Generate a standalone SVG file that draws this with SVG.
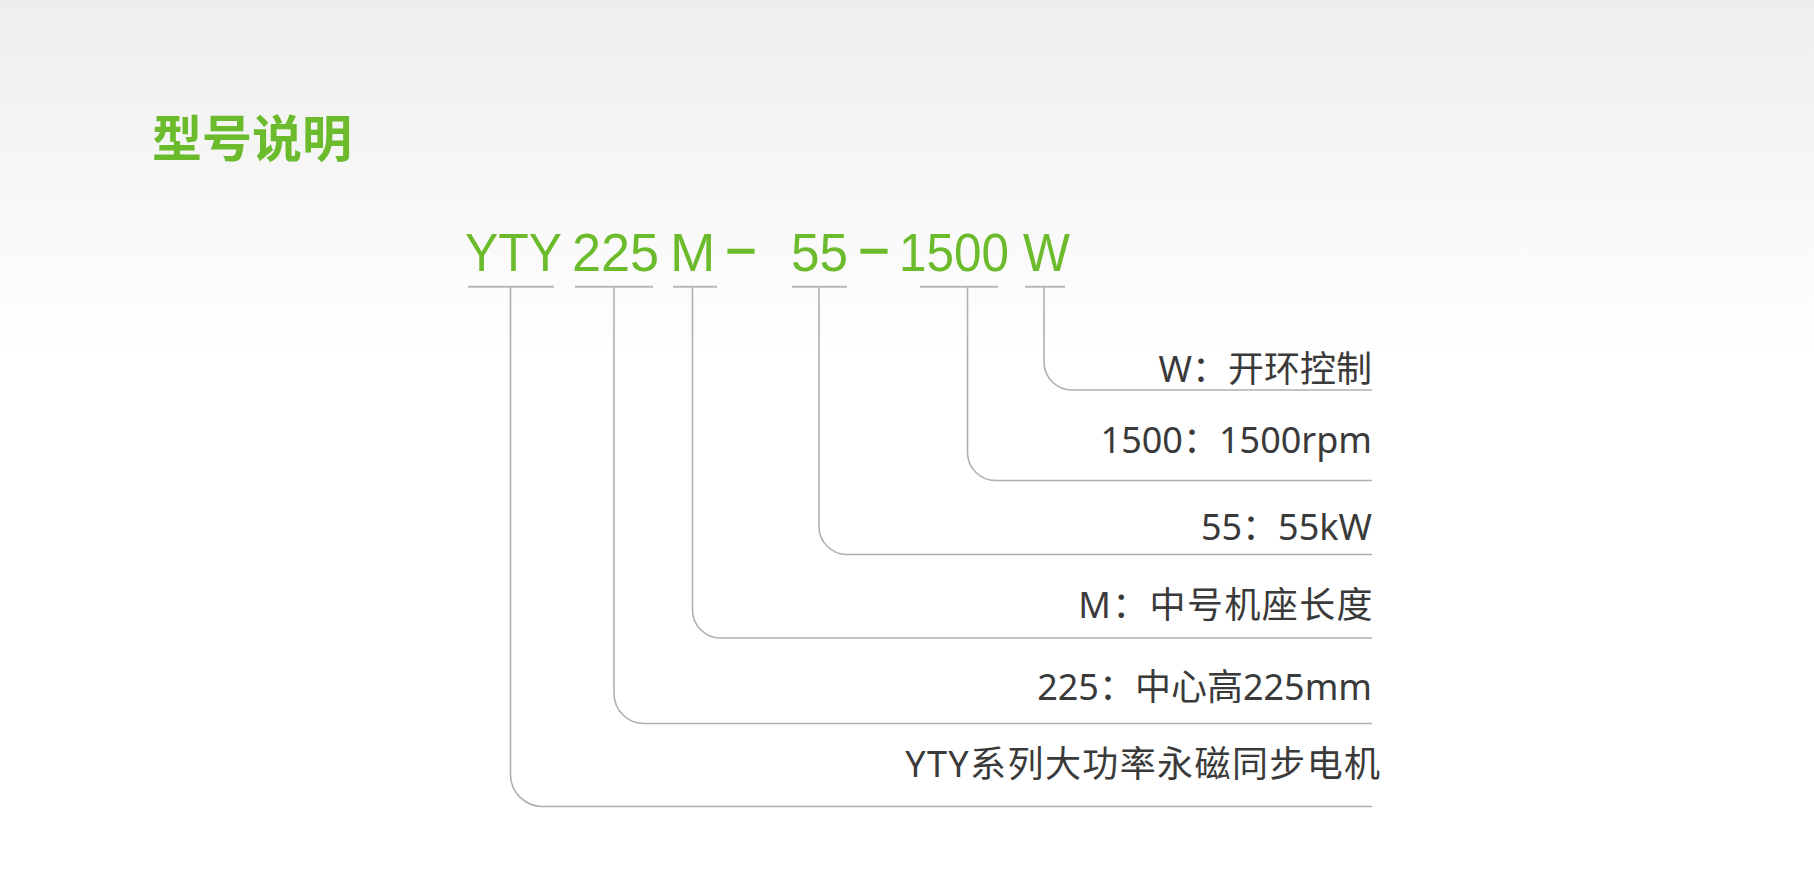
<svg xmlns="http://www.w3.org/2000/svg" width="1814" height="888" viewBox="0 0 1814 888">
  <defs>
    <linearGradient id="bg" x1="0" y1="0" x2="0" y2="1">
      <stop offset="0" stop-color="#eeeeee"/>
      <stop offset="0.4" stop-color="#ffffff"/>
      <stop offset="1" stop-color="#ffffff"/>
    </linearGradient>
    <style>
      .title { font-family: "Noto Sans CJK SC", "Noto Sans", sans-serif; font-weight: bold; font-size: 50px; fill: #6cbb2c; }
      .code { font-family: "Liberation Sans", Arial, sans-serif; font-size: 54.5px; fill: #6cbb2c; }
      .dash { stroke: #6cbb2c; stroke-width: 1.4; }
      .label { font-family: "Noto Sans", "Noto Sans CJK SC", sans-serif; font-size: 36px; fill: #3a3a3a; text-anchor: end; }
      .wide { letter-spacing: 1.4px; }
      .under { stroke: #b8b8b8; stroke-width: 2; fill: none; }
      .conn { stroke: #b0b0b0; stroke-width: 1.6; fill: none; }
    </style>
  </defs>
  <rect x="0" y="0" width="1814" height="888" fill="url(#bg)"/>

  <text class="title" x="152" y="157">型号说明</text>

  <g id="code">
    <g id="seg-yty">
      <text class="code" x="465" y="270.7" textLength="97" lengthAdjust="spacingAndGlyphs">YTY</text>
      <line class="under" x1="468" y1="286.7" x2="554" y2="286.7"/>
    </g>
    <g id="seg-225">
      <text class="code" x="572" y="270.7" textLength="87" lengthAdjust="spacingAndGlyphs">225</text>
      <line class="under" x1="575" y1="286.7" x2="653" y2="286.7"/>
    </g>
    <g id="seg-m">
      <text class="code" x="670" y="270.7">M</text>
      <line class="under" x1="673" y1="286.7" x2="717" y2="286.7"/>
    </g>
    <text class="code dash" x="728" y="265" textLength="26" lengthAdjust="spacingAndGlyphs">–</text>
    <g id="seg-55">
      <text class="code" x="791" y="270.7" textLength="57" lengthAdjust="spacingAndGlyphs">55</text>
      <line class="under" x1="792" y1="286.7" x2="847" y2="286.7"/>
    </g>
    <text class="code dash" x="861" y="265" textLength="26" lengthAdjust="spacingAndGlyphs">–</text>
    <g id="seg-1500">
      <text class="code" x="899" y="270.7" textLength="110" lengthAdjust="spacingAndGlyphs">1500</text>
      <line class="under" x1="920" y1="286.7" x2="998" y2="286.7"/>
    </g>
    <g id="seg-w">
      <text class="code" x="1023" y="270.7" textLength="47" lengthAdjust="spacingAndGlyphs">W</text>
      <line class="under" x1="1025" y1="286.7" x2="1065" y2="286.7"/>
    </g>
  </g>

  <g id="connectors">
    <path class="conn" d="M1044 287 V362 A28 28 0 0 0 1072 390 H1372"/>
    <path class="conn" d="M967.5 287 V452.5 A28 28 0 0 0 995.5 480.5 H1372"/>
    <path class="conn" d="M819 287 V526.5 A28 28 0 0 0 847 554.5 H1372"/>
    <path class="conn" d="M692.5 287 V610 A28 28 0 0 0 720.5 638 H1372"/>
    <path class="conn" d="M614 287 V693.5 A30 30 0 0 0 644 723.5 H1372"/>
    <path class="conn" d="M510.5 287 V774.5 A32 32 0 0 0 542.5 806.5 H1372"/>
  </g>

  <g id="label-w"><text class="label" x="1372" y="381.5">W：开环控制</text></g>
  <g id="label-1500"><text class="label" x="1372" y="453">1500：1500rpm</text></g>
  <g id="label-55"><text class="label" x="1372" y="540">55：55kW</text></g>
  <g id="label-m"><text class="label wide" x="1374" y="618">M：中号机座长度</text></g>
  <g id="label-225"><text class="label" x="1372" y="700">225：中心高225mm</text></g>
  <g id="label-yty"><text class="label wide" x="1381.5" y="777">YTY系列大功率永磁同步电机</text></g>
</svg>
